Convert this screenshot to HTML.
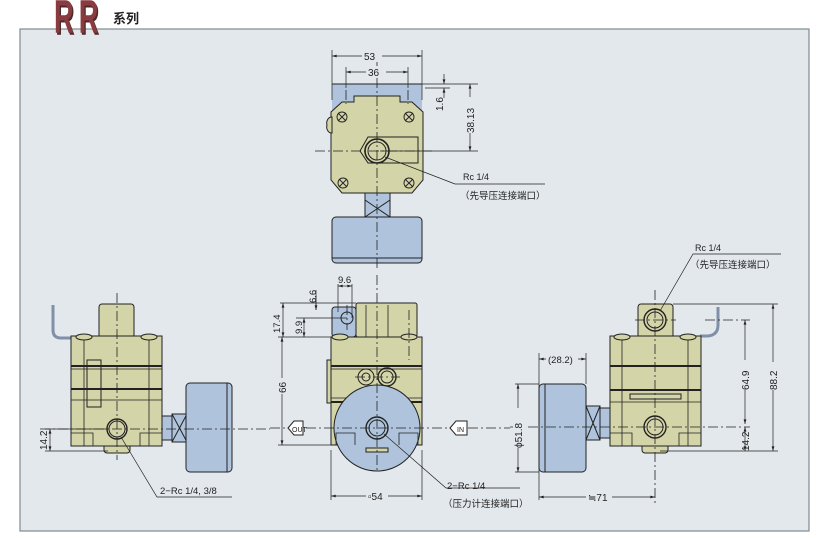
<!DOCTYPE html>
<html><head><meta charset="utf-8"><style>
html,body{margin:0;padding:0;background:#fff;}
svg{display:block;}
text{font-family:"Liberation Sans","Noto Sans CJK SC",sans-serif;fill:#222;}
</style></head><body>
<svg width="840" height="538" viewBox="0 0 840 538" xmlns="http://www.w3.org/2000/svg">
<defs>
<marker id="a" viewBox="0 0 10 6" refX="10" refY="3" markerWidth="7" markerHeight="4" orient="auto-start-reverse"><path d="M0,0L10,3L0,6z" fill="#222"/></marker>
</defs>
<rect x="20" y="29" width="789" height="502" fill="#e3e8ec" stroke="#7f8c8f" stroke-width="1.2"/>
<!-- logo -->
<g transform="translate(54,35) scale(0.62,1.08)">
<text x="2" y="0" font-family="Liberation Serif,serif" font-size="44" font-weight="bold" style="fill:#4a2a2c">R</text>
<text x="42" y="0" font-family="Liberation Serif,serif" font-size="44" font-weight="bold" style="fill:#4a2a2c">R</text>
<text x="0" y="-2" font-family="Liberation Serif,serif" font-size="44" font-weight="bold" style="fill:#8a3b3f">R</text>
<text x="40" y="-2" font-family="Liberation Serif,serif" font-size="44" font-weight="bold" style="fill:#8a3b3f">R</text>
</g>
<text x="113" y="23" font-size="13" font-weight="bold" style="fill:#222">系列</text>

<g stroke="#222" fill="none" stroke-width="1">
<!-- ===== TOP VIEW ===== -->
<rect x="332" y="84" width="90" height="30" fill="#afc4dc" stroke="none"/>
<line x1="332" y1="84" x2="422" y2="84"/>
<path d="M342,102 L354,102 L354,96 L400,96 L400,102 L412,102 L423,112 L423,180 L412,193 L342,193 L331,180 L331,112 Z" fill="#d3d4a7"/>
<path d="M327,125 a5,6 0 0 1 5,-8 l0,16 a5,6 0 0 1 -5,-8z" fill="#d3d4a7"/>
<path d="M360,151 l8,-14 h50 v26 h-50 z"/>
<circle cx="377" cy="151" r="12" stroke-width="1.6"/><circle cx="377" cy="151" r="9"/>
<g stroke-width="0.9"><circle cx="342" cy="117" r="5"/><circle cx="409" cy="117" r="5"/><circle cx="343" cy="183" r="5"/><circle cx="409" cy="183" r="5"/>
<path d="M338,113l8,8M346,113l-8,8M405,113l8,8M413,113l-8,8M339,179l8,8M347,179l-8,8M405,179l8,8M413,179l-8,8"/></g>
<rect x="365" y="193" width="25" height="24" fill="#afc4dc"/>
<path d="M365,200l25,17M390,200l-25,17"/>
<rect x="332" y="217" width="90" height="46" rx="4" fill="#afc4dc"/>
<line x1="332" y1="258" x2="422" y2="258"/>
<path d="M377,60V270M315,151H432M346,90V104M408,90V104" stroke-dasharray="10,3,2,3" stroke-width="0.8"/>
<path d="M332,50V100M422,50V100M346,67V88M408,67V88" stroke-width="0.7"/>
<line x1="332" y1="56" x2="422" y2="56" marker-start="url(#a)" marker-end="url(#a)" stroke-width="0.7"/>
<line x1="346" y1="72" x2="408" y2="72" marker-start="url(#a)" marker-end="url(#a)" stroke-width="0.7"/>
<path d="M422,84H478M425,88H450M380,151H478" stroke-width="0.7"/>
<line x1="444" y1="74" x2="444" y2="84" marker-end="url(#a)" stroke-width="0.7"/>
<line x1="444" y1="98" x2="444" y2="88" marker-end="url(#a)" stroke-width="0.7"/>
<line x1="470" y1="84" x2="470" y2="151" marker-start="url(#a)" marker-end="url(#a)" stroke-width="0.7"/>
<path d="M385,157L455,184H545" stroke-width="0.7"/>

<!-- ===== FRONT VIEW ===== -->
<rect x="332" y="307" width="24" height="30" rx="3" fill="#afc4dc"/>
<circle cx="347" cy="318" r="6"/>
<rect x="356" y="303" width="61" height="34" rx="2" fill="#d3d4a7"/>
<path d="M388,305V337M366,305V337" stroke-width="0.8"/>
<rect x="331" y="337" width="91" height="108" fill="#d3d4a7"/>
<rect x="327" y="360" width="4" height="43" fill="#d3d4a7"/>
<path d="M331,366H422M331,402H422" stroke-width="2"/>
<path d="M331,369H422M331,398H422" stroke-width="0.7"/>
<ellipse cx="340" cy="337" rx="8" ry="3" fill="#d3d4a7"/><ellipse cx="409" cy="337" rx="8" ry="3" fill="#d3d4a7"/>
<circle cx="366" cy="377" r="8"/><circle cx="366" cy="377" r="4"/>
<circle cx="387" cy="377" r="9" stroke-width="1.4"/><circle cx="387" cy="377" r="6"/>
<circle cx="377" cy="428" r="43" fill="#afc4dc"/>
<path d="M336,445V433H355V445M418,445V433H399V445" stroke-width="0.8"/>
<circle cx="377" cy="428" r="11" stroke-width="1.4"/><circle cx="377" cy="428" r="8"/>
<path d="M366,448h22v4h-22z" fill="#d3d4a7"/>
<path d="M377,275V472M270,428H510M355,377H400M347,305V330M409,310V360" stroke-dasharray="10,3,2,3" stroke-width="0.8"/>
<path d="M288,428l6,-7h9v14h-9z" fill="#fff"/><text x="292" y="432" font-size="7" stroke="none">OUT</text>
<path d="M450,428l6,-7h11v14h-11z" fill="#fff"/><text x="457" y="432" font-size="7" stroke="none">IN</text>
<path d="M278,337H331M280,303H356M296,318H347M278,445H331M331,450V500M422,450V500M338,284V312M352,284V318M316,296V310" stroke-width="0.7"/>
<line x1="283" y1="303" x2="283" y2="337" marker-start="url(#a)" marker-end="url(#a)" stroke-width="0.7"/>
<line x1="282" y1="337" x2="282" y2="445" marker-start="url(#a)" marker-end="url(#a)" stroke-width="0.7"/>
<line x1="304" y1="318" x2="304" y2="337" marker-start="url(#a)" marker-end="url(#a)" stroke-width="0.7"/>
<line x1="316" y1="290" x2="316" y2="310" marker-end="url(#a)" stroke-width="0.7"/>
<line x1="338" y1="286" x2="352" y2="286" marker-start="url(#a)" marker-end="url(#a)" stroke-width="0.7"/>
<line x1="331" y1="496" x2="422" y2="496" marker-start="url(#a)" marker-end="url(#a)" stroke-width="0.7"/>
<path d="M384,434L446,488H520" stroke-width="0.7"/>

<!-- ===== LEFT VIEW ===== -->
<path d="M53,305V330q0,8 8,8H72" stroke="#8090a8" stroke-width="3"/>
<rect x="99" y="304" width="35" height="34" rx="3" fill="#d3d4a7"/>
<rect x="71" y="336" width="91" height="110" fill="#d3d4a7"/>
<path d="M71,366H162M71,389H162" stroke-width="2"/>
<path d="M71,369H162M71,400H162" stroke-width="0.7"/>
<rect x="87" y="360" width="14" height="47"/>
<path d="M84,336V446M149,336V446M71,433H93V446M162,433H140V446" stroke-width="0.8"/>
<ellipse cx="84" cy="337" rx="8" ry="3" fill="#d3d4a7"/><ellipse cx="149" cy="337" rx="8" ry="3" fill="#d3d4a7"/>
<path d="M104,446h26v4a3,3 0 0 1 -3,3h-20a3,3 0 0 1 -3,-3z" fill="#d3d4a7"/>
<circle cx="117" cy="429" r="10" stroke-width="1.4"/><circle cx="117" cy="429" r="8"/>
<rect x="162" y="416" width="10" height="24" fill="#afc4dc"/>
<rect x="172" y="414" width="15" height="28" fill="#afc4dc"/><path d="M172,414l15,28M187,414l-15,28"/>
<rect x="186" y="383" width="46" height="89" rx="4" fill="#afc4dc"/>
<path d="M227,383V472"/>
<path d="M117,293V460M40,429H270" stroke-dasharray="10,3,2,3" stroke-width="0.8"/>
<path d="M45,429H107M45,451H108" stroke-width="0.7"/>
<line x1="50" y1="429" x2="50" y2="451" marker-start="url(#a)" marker-end="url(#a)" stroke-width="0.7"/>
<path d="M121,437L157,497H232" stroke-width="0.7"/>

<!-- ===== RIGHT VIEW ===== -->
<path d="M718,307V325q0,10 -10,11H700" stroke="#8090a8" stroke-width="3"/>
<rect x="638" y="304" width="35" height="34" rx="3" fill="#d3d4a7"/>
<circle cx="655" cy="320" r="11" stroke-width="1.4"/><circle cx="655" cy="320" r="8"/>
<rect x="610" y="336" width="91" height="110" fill="#d3d4a7"/>
<path d="M610,366H701M610,390H701" stroke-width="2"/>
<path d="M610,402H701" stroke-width="0.8"/>
<rect x="630" y="394" width="51" height="5"/>
<path d="M622,336V446M688,336V446M610,433H632V446M701,433H679V446" stroke-width="0.8"/>
<ellipse cx="622" cy="337" rx="8" ry="3" fill="#d3d4a7"/><ellipse cx="688" cy="337" rx="8" ry="3" fill="#d3d4a7"/>
<path d="M642,446h26v4a3,3 0 0 1 -3,3h-20a3,3 0 0 1 -3,-3z" fill="#d3d4a7"/>
<circle cx="655" cy="427" r="11" stroke-width="1.4"/><circle cx="655" cy="427" r="8"/>
<rect x="600" y="408" width="10" height="30" fill="#afc4dc"/>
<rect x="586" y="406" width="14" height="34" fill="#afc4dc"/><path d="M586,406l14,34M600,406l-14,34"/>
<rect x="539" y="384" width="47" height="88" rx="4" fill="#afc4dc"/>
<path d="M545,384V472"/>
<path d="M655,290V505M510,427H750M635,320H676M705,320H750" stroke-dasharray="10,3,2,3" stroke-width="0.8"/>
<path d="M673,304H778M660,451H778M515,384H539M515,472H539M539,353V500M586,353V384" stroke-width="0.7"/>
<line x1="773" y1="304" x2="773" y2="451" marker-start="url(#a)" marker-end="url(#a)" stroke-width="0.7"/>
<line x1="745" y1="320" x2="745" y2="424" marker-start="url(#a)" marker-end="url(#a)" stroke-width="0.7"/>
<line x1="745" y1="427" x2="745" y2="451" marker-start="url(#a)" marker-end="url(#a)" stroke-width="0.7"/>
<line x1="518" y1="384" x2="518" y2="472" marker-start="url(#a)" marker-end="url(#a)" stroke-width="0.7"/>
<line x1="539" y1="359" x2="586" y2="359" marker-start="url(#a)" marker-end="url(#a)" stroke-width="0.7"/>
<line x1="539" y1="497" x2="655" y2="497" marker-start="url(#a)" marker-end="url(#a)" stroke-width="0.7"/>
<path d="M660,311L693,254H781" stroke-width="0.7"/>
</g>

<g font-size="10">
<rect x="362" y="50" width="20" height="12" fill="#e3e8ec"/><text x="364" y="60">53</text>
<rect x="366" y="66" width="20" height="12" fill="#e3e8ec"/><text x="368" y="76">36</text>
<text x="443" y="111" transform="rotate(-90 443 111)">1.6</text>
<rect x="464" y="97" width="12" height="36" fill="#e3e8ec"/>
<text x="474" y="133" transform="rotate(-90 474 133)">38.13</text>
<text x="463" y="180" font-size="9">Rc 1/4</text>
<text x="460" y="199" font-size="9.5">（先导压连接端口）</text>

<text x="338" y="283" font-size="9.5">9.6</text>
<text x="316" y="303" font-size="9.5" transform="rotate(-90 316 303)">6.6</text>
<text x="280" y="333" font-size="9.5" transform="rotate(-90 280 333)">17.4</text>
<text x="302" y="334" font-size="9.5" transform="rotate(-90 302 334)">9.9</text>
<rect x="276" y="378" width="12" height="16" fill="#e3e8ec"/>
<text x="286" y="393" transform="rotate(-90 286 393)">66</text>
<rect x="366" y="490" width="22" height="12" fill="#e3e8ec"/><text x="368" y="500">▫54</text>
<text x="447" y="489" font-size="9.5">2−Rc 1/4</text>
<text x="443" y="507" font-size="9.5">（压力计连接端口）</text>

<text x="47" y="450" transform="rotate(-90 47 450)">14.2</text>
<text x="160" y="494" font-size="9.5">2−Rc 1/4, 3/8</text>

<text x="695" y="251" font-size="9">Rc 1/4</text>
<text x="690" y="268" font-size="9.5">（先导压连接端口）</text>
<rect x="546" y="353" width="32" height="12" fill="#e3e8ec"/><text x="548" y="363" font-size="9.5">(28.2)</text>
<rect x="586" y="491" width="26" height="12" fill="#e3e8ec"/><text x="588" y="501">≒71</text>
<rect x="513" y="408" width="12" height="40" fill="#e3e8ec"/>
<text x="522" y="448" transform="rotate(-90 522 448)">ϕ51.8</text>
<rect x="740" y="360" width="12" height="30" fill="#e3e8ec"/>
<text x="749" y="390" transform="rotate(-90 749 390)">64.9</text>
<text x="749" y="451" transform="rotate(-90 749 451)">14.2</text>
<rect x="768" y="362" width="12" height="28" fill="#e3e8ec"/>
<text x="777" y="390" transform="rotate(-90 777 390)">88.2</text>
</g>
</svg>
</body></html>
